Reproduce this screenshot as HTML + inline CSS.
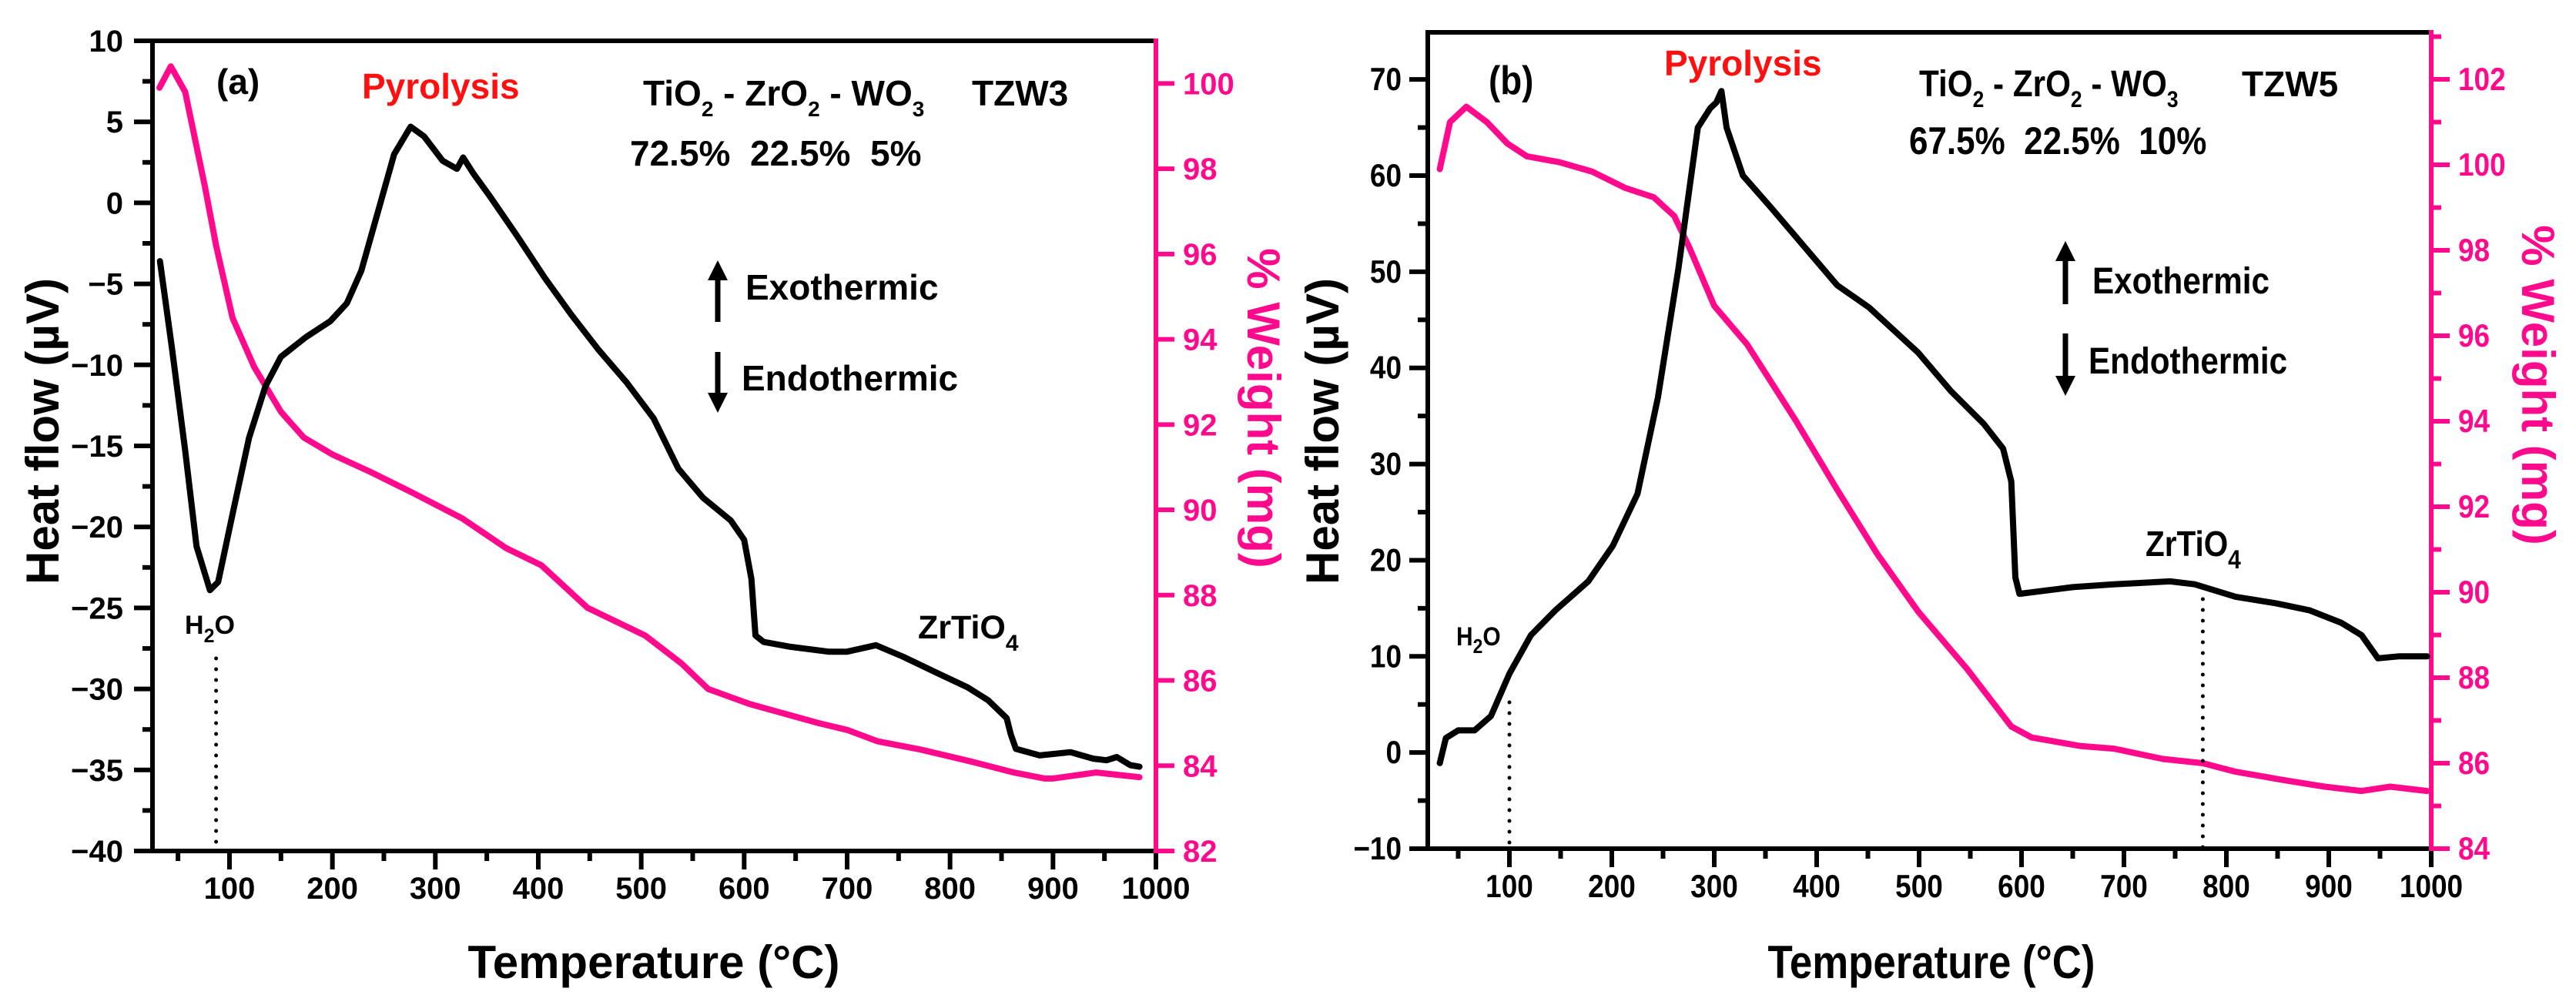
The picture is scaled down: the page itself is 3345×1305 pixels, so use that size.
<!DOCTYPE html>
<html><head><meta charset="utf-8"><style>
html,body{margin:0;padding:0;background:#fff}
svg{display:block}
text{font-family:"Liberation Sans",Arial,sans-serif;font-weight:bold}
</style></head><body>
<svg id="fig" width="3345" height="1305" viewBox="0 0 3345 1305" xmlns="http://www.w3.org/2000/svg">
<g id="pa"></g>
<g id="pb"></g>
</svg>
<script>
// ---- Panel (a) data ----
const tempA = [32.5,44,57,68,81,89,103,119,135,150,174,198,214,228,244,260,276,289,307,321,327,337,353,379,406,432,459,486,512,536,560,587,600,607,611,619,645,682,700,728,754,787,817,837,855,859,864,887,917,939,952,962,975,984];
const heatA = [-3.6,-8.9,-15.3,-21.2,-23.9,-23.4,-19.2,-14.5,-11.3,-9.5,-8.3,-7.3,-6.2,-4.2,-0.6,3.0,4.7,4.1,2.6,2.1,2.8,1.8,0.4,-2.0,-4.6,-6.9,-9.1,-11.1,-13.3,-16.4,-18.2,-19.6,-20.8,-23.2,-26.7,-27.1,-27.4,-27.7,-27.7,-27.3,-28.0,-29.0,-29.9,-30.7,-31.8,-32.8,-33.7,-34.1,-33.9,-34.3,-34.4,-34.2,-34.7,-34.8];
const tempAw = [32,43,57,76,87,103,124,150,172,200,236,278,326,369,403,448,504,539,565,605,672,700,730,771,820,862,892,900,942,984];
const weightA = [99.9,100.4,99.8,97.6,96.2,94.5,93.35,92.3,91.7,91.3,90.9,90.4,89.8,89.1,88.7,87.7,87.05,86.4,85.8,85.45,85.0,84.84,84.57,84.38,84.1,83.84,83.7,83.7,83.84,83.73];
const xTicksA = [100,200,300,400,500,600,700,800,900,1000];
const yTicksA = [10,5,0,-5,-10,-15,-20,-25,-30,-35,-40];
const wTicksA = [100,98,96,94,92,90,88,86,84,82];
// ---- Panel (b) data ----
const tempB = [32,38,50,66,82,100,121,145,177,201,225,245,265,284,296,302,307,312,328,356,388,420,451,499,531,563,582,590,594,598,650,690,745,769,809,849,881,912,932,948,968,996];
const heatB = [-1.1,1.5,2.3,2.3,3.8,8.2,12.2,14.8,17.8,21.5,26.9,36.9,50.3,65,67,67.6,68.8,65,60,56.6,52.6,48.6,46.3,41.6,37.6,34.2,31.6,28.2,18.2,16.5,17.2,17.5,17.8,17.5,16.2,15.5,14.8,13.5,12.2,9.8,10,10];
const tempBw = [32,42,58,78,98,117,149,181,213,241,261,276,300,332,380,420,459,499,547,590,610,658,690,738,777,809,857,896,932,960,996];
const weightB = [99.9,101.0,101.36,101.0,100.5,100.2,100.06,99.84,99.46,99.24,98.8,98.05,96.7,95.8,94.0,92.4,90.9,89.55,88.2,86.86,86.6,86.4,86.34,86.1,86.0,85.8,85.6,85.45,85.35,85.45,85.35];
const xTicksB = [100,200,300,400,500,600,700,800,900,1000];
const yTicksB = [70,60,50,40,30,20,10,0,-10];
const wTicksB = [102,100,98,96,94,92,90,88,86,84];

const NS = "http://www.w3.org/2000/svg";
const PINK = "#ff0a8c";
function el(parent, tag, attrs, txt){
  const e = document.createElementNS(NS, tag);
  for (const k in attrs) e.setAttribute(k, attrs[k]);
  if (txt !== undefined) e.textContent = txt;
  parent.appendChild(e);
  return e;
}
function lin(d0,d1,p0,p1){ return v => p0 + (v-d0)*(p1-p0)/(d1-d0); }

function panel(g, cfg){
  const X = lin(0,1000,cfg.x0,cfg.x1000);
  const Y = lin(cfg.yTop,cfg.yBot,cfg.top,cfg.bot);
  const W = lin(cfg.wTop,cfg.wBot,cfg.top,cfg.bot);
  const L = cfg.left, R = cfg.right, T = cfg.top, B = cfg.bot;
  const sx = cfg.narrow ? 0.88 : 1;
  function txt(x,y,attrs,s){
    const a = Object.assign({x:0,y:0,transform:`translate(${x},${y}) scale(${sx},1)`},attrs);
    return el(g,"text",a,s);
  }
  for (let v=50; v<=1000; v+=50){
    if (X(v) < L+3) continue;
    const major = v%100===0;
    const t = el(g,"line",{x1:X(v),x2:X(v),y1:B,y2:B+(major?24:13),stroke:"#000","stroke-width":6});
    
    
  }
  cfg.xTicks.forEach(v=>{
    const t = txt(X(v),cfg.xLabY,{"font-size":cfg.tickFs,"text-anchor":"middle"},String(v));
    
    
  });
  const st = cfg.yStep/2;
  for (let v=cfg.yBot; v<=cfg.yTop+0.001; v+=st){
    const major = Math.abs(Math.round(v/cfg.yStep)*cfg.yStep - v) < 0.01;
    const t = el(g,"line",{x1:L,x2:L-(major?24:13),y1:Y(v),y2:Y(v),stroke:"#000","stroke-width":6});
    
    
  }
  cfg.yTicks.forEach(v=>{
    const t = txt(cfg.yLabX,Y(v)+14,{"font-size":cfg.tickFs,"text-anchor":"end"},(v<0?"\u2212"+(-v):String(v)));
    
    
  });
  for (let v=cfg.wBot; v<=cfg.wTop+0.001; v+=1){
    const major = v%2===0;
    if (!major && !cfg.wMinor) continue;
    const t = el(g,"line",{x1:R,x2:R+(major?24:13),y1:W(v),y2:W(v),stroke:PINK,"stroke-width":6});
    
    
  }
  cfg.wTicks.forEach(v=>{
    const t = txt(cfg.wLabX,W(v)+14,{"font-size":cfg.tickFs,fill:PINK},String(v));
    
    
  });
  const top = el(g,"line",{x1:L-3,x2:R,y1:T,y2:T,stroke:"#000","stroke-width":6});
  
  
  const bot = el(g,"line",{x1:L-3,x2:R,y1:B,y2:B,stroke:"#000","stroke-width":6});
  
  
  const la = el(g,"line",{x1:L,x2:L,y1:T-3,y2:B+3,stroke:"#000","stroke-width":6});
  
  
  const ra = el(g,"line",{x1:R,x2:R,y1:T-3,y2:B+3,stroke:PINK,"stroke-width":6});
  
  
  let d = cfg.tw.map((t,i)=>(i?"L":"M")+X(t).toFixed(1)+","+W(cfg.w[i]).toFixed(1)).join(" ");
  const pw = el(g,"path",{d:d,fill:"none",stroke:PINK,"stroke-width":8,"stroke-linejoin":"round","stroke-linecap":"round"});
  
  
  d = cfg.th.map((t,i)=>(i?"L":"M")+X(t).toFixed(1)+","+Y(cfg.h[i]).toFixed(1)).join(" ");
  const ph = el(g,"path",{d:d,fill:"none",stroke:"#000","stroke-width":8,"stroke-linejoin":"round","stroke-linecap":"round"});
  
  
  cfg.marks.forEach(m=>{
    const ln = el(g,"line",{x1:X(m.t),x2:X(m.t),y1:m.y1,y2:B,stroke:"#000","stroke-width":5,"stroke-dasharray":"0 14","stroke-linecap":"round"});
    
    
  });
  const yt = el(g,"text",{x:0,y:0,"font-size":cfg.titleFs,"text-anchor":"middle",transform:`translate(${cfg.ytX},${cfg.ytY}) rotate(-90)`},"Heat flow (µV)");
  
  
  const wt = el(g,"text",{x:0,y:0,"font-size":cfg.titleFs,"text-anchor":"middle",fill:PINK,transform:`translate(${cfg.wtX},${cfg.wtY}) rotate(90)`},"% Weight  (mg)");
  
  
  const xt = txt(cfg.xtX,1270,{"font-size":cfg.titleFs,"text-anchor":"middle"},"Temperature (°C)");
  
  
}

panel(document.getElementById('pa'),{
  x0:164.3, x1000:1501, left:198, right:1501, top:53, bot:1105,
  yTop:10, yBot:-40, yStep:5, wTop:101.0, wBot:82,
  xTicks:xTicksA, yTicks:yTicksA, wTicks:wTicksA, wMinor:false,
  th:tempA, h:heatA, tw:tempAw, w:weightA,
  tickFs:40, titleFs:60, xLabY:1167, yLabX:160, wLabX:1536,
  ytX:76, ytY:560, wtX:1620, wtY:530, xtX:849,
  marks:[{t:87, y1:855}], narrow:false
});
panel(document.getElementById('pb'),{
  x0:1827, x1000:3157, left:1854, right:3157, top:42, bot:1102,
  yTop:74.9, yBot:-10, yStep:10, wTop:103.1, wBot:84,
  xTicks:xTicksB, yTicks:yTicksB, wTicks:wTicksB, wMinor:true,
  th:tempB, h:heatB, tw:tempBw, w:weightB,
  tickFs:42, titleFs:60, xLabY:1165, yLabX:1820, wLabX:3192,
  ytX:1738, ytY:560, wtX:3275, wtY:500, xtX:2508,
  marks:[{t:100, y1:912},{t:777, y1:778}], narrow:true
});
</script>
<svg style="position:absolute;left:0;top:0" width="3345" height="1305" xmlns="http://www.w3.org/2000/svg">
<text x="281" y="122" font-size="46" style="font-family:'Liberation Sans',sans-serif;font-weight:bold">(a)</text>
<text x="470" y="128" font-size="46" fill="#ff1010" style="font-family:'Liberation Sans',sans-serif;font-weight:bold">Pyrolysis</text>
<text x="835" y="137" font-size="46" style="font-family:'Liberation Sans',sans-serif;font-weight:bold">TiO<tspan font-size="28" dy="14">2</tspan><tspan dy="-14"> - ZrO</tspan><tspan font-size="28" dy="14">2</tspan><tspan dy="-14"> - WO</tspan><tspan font-size="28" dy="14">3</tspan></text>
<text x="1262" y="137" font-size="46" style="font-family:'Liberation Sans',sans-serif;font-weight:bold">TZW3</text>
<text x="818" y="215" font-size="46" style="font-family:'Liberation Sans',sans-serif;font-weight:bold;white-space:pre" xml:space="preserve">72.5%  22.5%  5%</text>
<g><line x1="932" y1="355" x2="932" y2="418" stroke="#000" stroke-width="7"/><polygon points="919,364 945,364 932,338" fill="#000"/></g>
<text x="968" y="389" font-size="46" style="font-family:'Liberation Sans',sans-serif;font-weight:bold">Exothermic</text>
<g><line x1="932" y1="457" x2="932" y2="520" stroke="#000" stroke-width="7"/><polygon points="919,510 945,510 932,536" fill="#000"/></g>
<text x="963" y="507" font-size="46" style="font-family:'Liberation Sans',sans-serif;font-weight:bold">Endothermic</text>
<text x="240" y="823" font-size="34" style="font-family:'Liberation Sans',sans-serif;font-weight:bold">H<tspan font-size="25" dy="11">2</tspan><tspan dy="-11">O</tspan></text>
<text x="1192" y="829" font-size="43" style="font-family:'Liberation Sans',sans-serif;font-weight:bold">ZrTiO<tspan font-size="30" dy="16">4</tspan></text>
<text x="0" y="0" transform="translate(1933,122) scale(0.88,1)" font-size="52" style="font-family:'Liberation Sans',sans-serif;font-weight:bold">(b)</text>
<text x="2161" y="98" font-size="46" fill="#ff1010" style="font-family:'Liberation Sans',sans-serif;font-weight:bold">Pyrolysis</text>
<text x="0" y="0" transform="translate(2492,125) scale(0.88,1)" font-size="48" style="font-family:'Liberation Sans',sans-serif;font-weight:bold">TiO<tspan font-size="30" dy="14">2</tspan><tspan dy="-14"> - ZrO</tspan><tspan font-size="30" dy="14">2</tspan><tspan dy="-14"> - WO</tspan><tspan font-size="30" dy="14">3</tspan></text>
<text x="2911" y="125" font-size="46" style="font-family:'Liberation Sans',sans-serif;font-weight:bold">TZW5</text>
<text x="0" y="0" transform="translate(2479,200) scale(0.88,1)" font-size="50" style="font-family:'Liberation Sans',sans-serif;font-weight:bold;white-space:pre" xml:space="preserve">67.5%  22.5%  10%</text>
<g><line x1="2682" y1="330" x2="2682" y2="395" stroke="#000" stroke-width="7"/><polygon points="2669,339 2695,339 2682,313" fill="#000"/></g>
<text x="0" y="0" transform="translate(2717,381) scale(0.88,1)" font-size="48" style="font-family:'Liberation Sans',sans-serif;font-weight:bold">Exothermic</text>
<g><line x1="2682" y1="433" x2="2682" y2="496" stroke="#000" stroke-width="7"/><polygon points="2669,488 2695,488 2682,514" fill="#000"/></g>
<text x="0" y="0" transform="translate(2712,485) scale(0.88,1)" font-size="48" style="font-family:'Liberation Sans',sans-serif;font-weight:bold">Endothermic</text>
<text x="0" y="0" transform="translate(1891,838) scale(0.88,1)" font-size="34" style="font-family:'Liberation Sans',sans-serif">H<tspan font-size="26" dy="10">2</tspan><tspan dy="-10">O</tspan></text>
<text x="0" y="0" transform="translate(2786,722) scale(0.88,1)" font-size="46" style="font-family:'Liberation Sans',sans-serif">ZrTiO<tspan font-size="34" dy="16">4</tspan></text>
</svg>
</body></html>
